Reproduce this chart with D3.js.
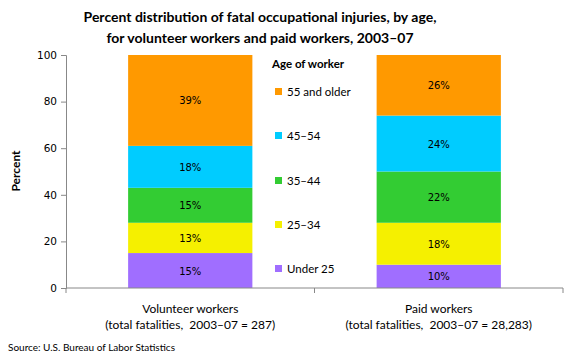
<!DOCTYPE html>
<html><head><meta charset="utf-8">
<script src="https://cdn.jsdelivr.net/npm/d3@7/dist/d3.min.js"></script>
<style>
body{margin:0;background:#fff;}
svg{display:block;}
text{white-space:pre;}
</style></head>
<body><svg id="c" width="580" height="360"></svg>
<script>
const categories = ["Volunteer workers", "Paid workers"];
const categorySub = ["(total fatalities,  2003\u201307 = 287)", "(total fatalities,  2003\u201307 = 28,283)"];
const ageGroups = ["Under 25", "25\u201334", "35\u201344", "45\u201354", "55 and older"];
const volunteerValues = [15, 13, 15, 18, 39];
const paidValues = [10, 18, 22, 24, 26];
const yTicks = [0, 20, 40, 60, 80, 100];
const colors = ["#A06EFF", "#F5F000", "#33CC33", "#00CCFF", "#FF9900"];

const svg = d3.select("#c");
const seriesByCat = [volunteerValues, paidValues];

const x = d3.scaleBand().domain(categories).range([66, 563]).paddingInner(0.5).paddingOuter(0.25);
const y = d3.scaleLinear().domain([0, 100]).range([288, 55]);

// title
const title = svg.append("text").attr("x", 260).attr("text-anchor", "middle")
  .style("font-family", "Lato").style("font-weight", "bold").style("font-size", "14px").attr("fill", "#000");
title.append("tspan").attr("x", 260).attr("y", 22).text("Percent distribution of fatal occupational injuries, by age,");
title.append("tspan").attr("x", 260).attr("y", 43).text("for volunteer workers and paid workers, 2003\u201307");

// stacked data
const rows = categories.map((c, i) => {
  const o = {cat: c};
  ageGroups.forEach((g, j) => o[g] = seriesByCat[i][j]);
  return o;
});
const stack = d3.stack().keys(ageGroups)(rows);

const g = svg.append("g");
stack.forEach((layer, li) => {
  layer.forEach(d => {
    g.append("rect")
      .attr("x", x(d.data.cat)).attr("width", x.bandwidth())
      .attr("y", y(d[1])).attr("height", y(d[0]) - y(d[1]))
      .attr("fill", colors[li]);
    g.append("text")
      .attr("x", x(d.data.cat) + x.bandwidth() / 2)
      .attr("y", (y(d[0]) + y(d[1])) / 2 + 4)
      .attr("text-anchor", "middle")
      .style("font-family", "DejaVu Sans").style("font-size", "10px").attr("fill", "#000")
      .text((d[1] - d[0]) + "%");
  });
});

// y axis
const yAxis = svg.append("g").attr("transform", "translate(66,0)")
  .call(d3.axisLeft(y).tickValues(yTicks).tickSize(5).tickPadding(4));
yAxis.select(".domain").attr("stroke", "#888");
yAxis.selectAll(".tick line").attr("stroke", "#888");
yAxis.selectAll(".tick text").style("font-family", "DejaVu Sans").style("font-size", "10.5px").attr("fill", "#000");

// x axis
const xAxisG = svg.append("g");
xAxisG.append("line").attr("x1", 66).attr("x2", 563).attr("y1", y(0)).attr("y2", y(0)).attr("stroke", "#888");
const bounds = [x.range()[0], (x(categories[0]) + x.bandwidth() + x(categories[1])) / 2, x.range()[1]];
bounds.forEach(b => xAxisG.append("line").attr("x1", b).attr("x2", b).attr("y1", y(0)).attr("y2", y(0) + 5).attr("stroke", "#888"));
categories.forEach((c, i) => {
  const cx = x(c) + x.bandwidth() / 2;
  xAxisG.append("text").attr("x", cx).attr("y", 313).attr("text-anchor", "middle")
    .style("font-family", "Lato").style("font-size", "12px").text(c);
  xAxisG.append("text").attr("x", cx).attr("y", 329).attr("text-anchor", "middle")
    .style("font-family", "Lato").style("font-size", "12px").text(categorySub[i]);
});

// y label
svg.append("text").attr("transform", "translate(20,171) rotate(-90)").attr("text-anchor", "middle")
  .style("font-family", "Lato").style("font-weight", "bold").style("font-size", "12px").text("Percent");

// legend
const lg = svg.append("g");
lg.append("text").attr("x", 272).attr("y", 68).style("font-family", "Lato").style("font-weight", "bold")
  .style("font-size", "11.5px").text("Age of worker");
const legendY = [269, 225, 181, 136, 92];
ageGroups.forEach((a, i) => {
  lg.append("rect").attr("x", 275).attr("y", legendY[i] - 4).attr("width", 7).attr("height", 7).attr("fill", colors[i]);
  lg.append("text").attr("x", 287).attr("y", legendY[i] + 4).style("font-family", "Lato").style("font-size", "11.5px").text(a);
});

// source
svg.append("text").attr("x", 8).attr("y", 351).style("font-family", "Lato").style("font-size", "10px").text("Source: U.S. Bureau of Labor Statistics");
</script></body></html>
